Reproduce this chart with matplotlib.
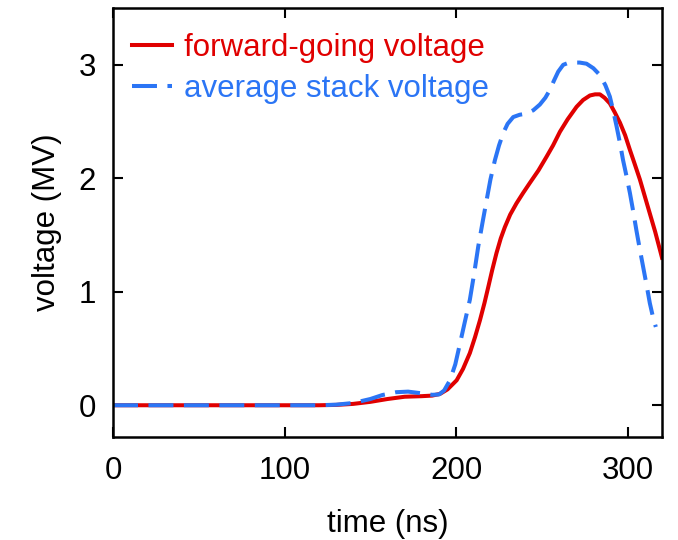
import matplotlib
matplotlib.use("Agg")
import matplotlib.pyplot as plt

plt.rcParams['font.family'] = ['Liberation Sans', 'DejaVu Sans']

# forward-going voltage (red, solid)
t_fwd = [0, 100, 120, 130, 140, 150, 160, 170, 180, 186, 190.6, 195, 200.3,
         204, 208, 211, 213.9, 216.5, 218.7, 221, 223.5, 226, 228.4, 231.5,
         235.2, 239, 243, 248, 252.7, 256.5, 260.5, 265, 270.2, 274, 278, 281,
         283.8, 286.5, 289.6, 292.5, 295.5, 298.5, 301.3, 304, 307.1, 310,
         312.9, 316, 318.8, 320]
v_fwd = [0, 0, 0, 0.003, 0.012, 0.03, 0.055, 0.075, 0.08, 0.085, 0.10, 0.14,
         0.22, 0.32, 0.46, 0.60, 0.75, 0.90, 1.04, 1.19, 1.34, 1.47, 1.57, 1.68,
         1.78, 1.87, 1.96, 2.07, 2.19, 2.29, 2.41, 2.52, 2.63, 2.69, 2.73, 2.74,
         2.74, 2.71, 2.66, 2.58, 2.49, 2.38, 2.25, 2.13, 1.99, 1.84, 1.69, 1.53,
         1.37, 1.30]

# average stack voltage (blue, dashed)
t_avg = [0, 120, 130, 140, 150, 157, 165, 172, 180, 186, 190, 193, 196.4,
         199.5, 202.2, 205, 208, 210.5, 212.9, 215.5, 217.8, 220, 222.6, 225,
         227.5, 230, 233.3, 237, 241.1, 245, 248.8, 252, 254.7, 257, 259.5,
         262.4, 265, 268.2, 272, 276, 280, 283.8, 287, 289.6, 291.5, 293.5,
         295.5, 297.3, 299.3, 301.3, 303.2, 305.1, 307, 309, 311, 312.9, 314.7,
         316.4]
v_avg = [0, 0, 0.005, 0.02, 0.055, 0.09, 0.115, 0.12, 0.105, 0.092, 0.095,
         0.13, 0.22, 0.36, 0.54, 0.73, 0.93, 1.16, 1.40, 1.62, 1.81, 1.99, 2.16,
         2.29, 2.40, 2.48, 2.54, 2.56, 2.57, 2.60, 2.65, 2.71, 2.78, 2.86, 2.94,
         3.00, 3.015, 3.02, 3.02, 3.01, 2.97, 2.91, 2.82, 2.72, 2.60, 2.46,
         2.31, 2.16, 2.02, 1.87, 1.71, 1.54, 1.38, 1.22, 1.06, 0.90, 0.78, 0.69]

red = "#e00000"
blue = "#2b75f5"

fig = plt.figure(figsize=(6.78, 5.4), dpi=100)
ax = fig.add_axes([0.1667, 0.1907, 0.8097, 0.7943])

ax.plot(t_fwd, v_fwd, color=red, lw=2.9, label="forward-going voltage")
ax.plot(t_avg, v_avg, color=blue, lw=2.9, dashes=(6.2, 2.6),
        label="average stack voltage")

ax.set(
    xlim=(0, 320),
    ylim=(-0.28, 3.5),
    xticks=[0, 100, 200, 300],
    yticks=[0, 1, 2, 3],
)
ax.set_xlabel("time (ns)", fontsize=22.5, labelpad=16)
ax.set_ylabel("voltage (MV)", fontsize=22.5, labelpad=12)

ax.tick_params(direction="in", length=7, width=1.5, labelsize=22.5,
               top=True, right=True, pad=14)
ax.tick_params(axis="y", pad=12)
for s in ax.spines.values():
    s.set_linewidth(1.8)

leg = ax.legend(loc="upper left", frameon=False, fontsize=22.5,
                handlelength=1.3, handletextpad=0.38, labelspacing=0.35,
                borderaxespad=0.2, bbox_to_anchor=(0.0, 0.985))
for txt, col in zip(leg.get_texts(), [red, blue]):
    txt.set_color(col)

fig.savefig("out.png", dpi=100)
